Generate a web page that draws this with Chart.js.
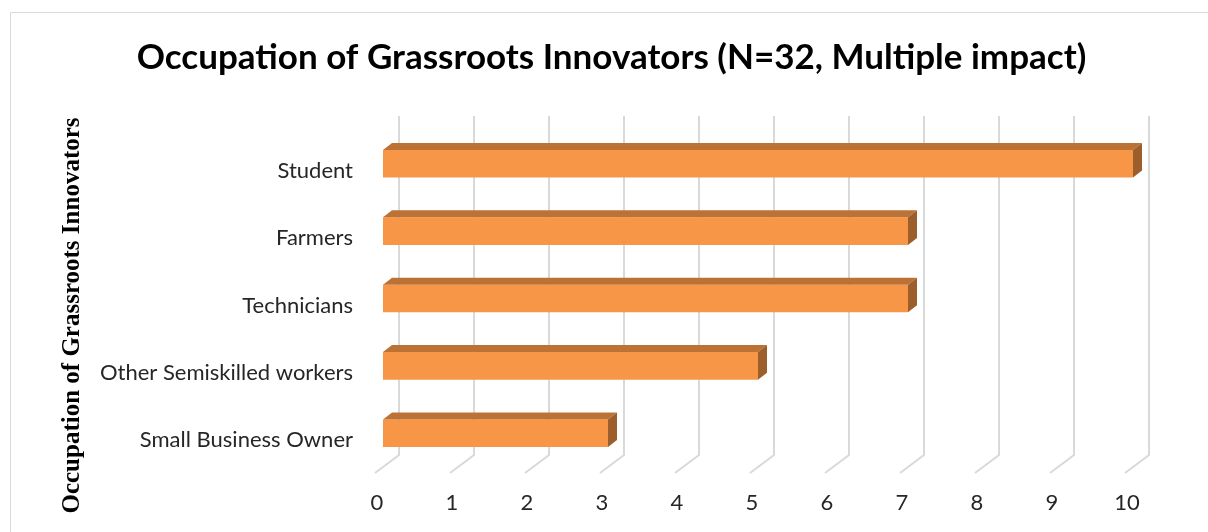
<!DOCTYPE html>
<html>
<head>
<meta charset="utf-8">
<script src="https://cdn.jsdelivr.net/npm/chart.js@4.4.0/dist/chart.umd.min.js"></script>
<style>
  html, body { margin: 0; padding: 0; background: #fff; overflow: hidden; }
  #wrap { width: 1208px; height: 532px; position: relative; }
</style>
</head>
<body>
<div id="wrap"><canvas id="MyChart" width="1208" height="532"></canvas></div>
<script>
// data
const occupations = ['Student', 'Farmers', 'Technicians', 'Other Semiskilled workers', 'Small Business Owner'];
const innovatorCounts = [10, 7, 7, 5, 3];
const xTicks = [0, 1, 2, 3, 4, 5, 6, 7, 8, 9, 10];

const chartTitle = 'Occupation of Grassroots Innovators (N=32, Multiple impact)';
const yAxisTitle = 'Occupation of Grassroots Innovators';

// colours of the 3d bar faces
const frontColor = '#F79646';
const topColor = '#BC7234';
const sideColor = '#9C5E2B';
const gridColor = '#D9D9D9';

// frame round the whole chart
const framePlugin = {
  id: 'frame',
  beforeDraw(chart) {
    const ctx = chart.ctx;
    ctx.save();
    ctx.strokeStyle = '#D9D9D9';
    ctx.lineWidth = 1;
    ctx.beginPath();
    ctx.moveTo(10.5, chart.height);
    ctx.lineTo(10.5, 12.5);
    ctx.lineTo(chart.width, 12.5);
    ctx.stroke();
    ctx.restore();
  }
};

// title sits a bit right of the plot centre in the original
const titleShiftPlugin = {
  id: 'titleShift',
  afterLayout(chart) {
    if (chart.titleBlock) {
      chart.titleBlock.left += 38;
    }
  }
};

// vertical axis title, serif, a little below the middle
const yTitlePlugin = {
  id: 'yTitle',
  afterDraw(chart) {
    const ctx = chart.ctx;
    const area = chart.chartArea;
    ctx.save();
    ctx.translate(area.left - 310, (area.top + area.bottom) / 2 + 17);
    ctx.rotate(-Math.PI / 2);
    ctx.fillStyle = '#000';
    ctx.font = 'bold 25px "Liberation Serif"';
    ctx.textAlign = 'center';
    ctx.textBaseline = 'middle';
    ctx.fillText(yAxisTitle, 0, 0);
    ctx.restore();
  }
};

// back wall grid + floor lines, drawn from the x scale
const wallPlugin = {
  id: 'wall',
  beforeDatasetsDraw(chart) {
    const ctx = chart.ctx;
    const xs = chart.scales.x;
    const area = chart.chartArea;
    ctx.save();
    ctx.strokeStyle = gridColor;
    ctx.lineWidth = 2;
    xTicks.forEach((v) => {
      const px = xs.getPixelForValue(v);
      ctx.beginPath();
      ctx.moveTo(px + 16, area.top - 14);
      ctx.lineTo(px + 16, area.bottom - 12);
      ctx.lineTo(px - 8, area.bottom + 6);
      ctx.stroke();
    });
    ctx.restore();
  }
};

// top and side faces so the bars look like boxes
const boxPlugin = {
  id: 'box',
  afterDatasetsDraw(chart) {
    const ctx = chart.ctx;
    const dx = 9, dy = 7;
    chart.getDatasetMeta(0).data.forEach((bar) => {
      const p = bar.getProps(['x', 'y', 'base', 'height'], true);
      const top = p.y - p.height / 2;
      const bottom = p.y + p.height / 2;
      ctx.save();
      ctx.fillStyle = topColor;
      ctx.beginPath();
      ctx.moveTo(p.base, top);
      ctx.lineTo(p.base + dx, top - dy);
      ctx.lineTo(p.x + dx, top - dy);
      ctx.lineTo(p.x, top);
      ctx.closePath();
      ctx.fill();
      ctx.fillStyle = sideColor;
      ctx.beginPath();
      ctx.moveTo(p.x, top);
      ctx.lineTo(p.x + dx, top - dy);
      ctx.lineTo(p.x + dx, bottom - dy);
      ctx.lineTo(p.x, bottom);
      ctx.closePath();
      ctx.fill();
      ctx.restore();
    });
  }
};

new Chart('MyChart', {
  type: 'bar',
  data: {
    labels: occupations,
    datasets: [
      {
        label: 'Innovators',
        data: innovatorCounts,
        backgroundColor: frontColor,
        borderWidth: 0,
        categoryPercentage: 1,
        barPercentage: 0.41,
      },
    ],
  },
  options: {
    indexAxis: 'y',
    responsive: false,
    animation: false,
    layout: {
      padding: { left: 52, right: 75, top: 3, bottom: 17 },
    },
    plugins: {
      legend: { display: false },
      tooltip: { enabled: false },
      title: {
        display: true,
        text: chartTitle,
        color: '#000',
        font: { family: 'Lato', size: 35, weight: 'bold' },
        padding: { top: 34, bottom: 51 },
      },
    },
    scales: {
      x: {
        min: 0,
        max: 10,
        grid: { display: false, drawTicks: false },
        border: { display: false },
        ticks: {
          stepSize: 1,
          color: '#262626',
          font: { family: 'Lato', size: 22 },
          padding: 23,
          labelOffset: -6,
        },
        afterFit: (scale) => {
          scale.height = 48;
        },
      },
      y: {
        grid: { display: false, drawTicks: false },
        border: { display: false },
        ticks: {
          color: '#262626',
          font: { family: 'Lato', size: 22 },
          padding: 30,
          labelOffset: 7,
        },
        afterFit: (scale) => {
          scale.width = 331;
        },
      },
    },
  },
  plugins: [framePlugin, titleShiftPlugin, wallPlugin, boxPlugin, yTitlePlugin],
});
</script>
</body>
</html>
